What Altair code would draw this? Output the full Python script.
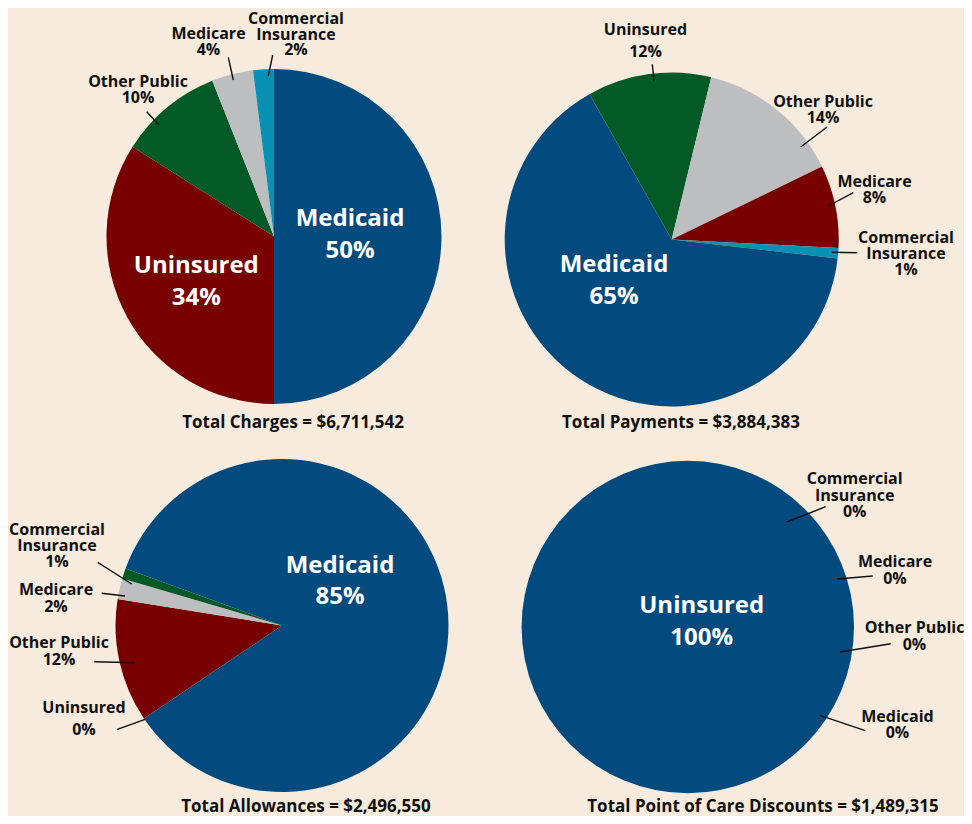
import math
import altair as alt
import pandas as pd

# ---------------- data ----------------
TOTAL_NAMES = ["Total Charges", "Total Payments", "Total Allowances", "Total Point of Care Discounts"]
TOTALS = [6711542, 3884383, 2496550, 1489315]

PIE1_CATS = ["Medicaid", "Uninsured", "Other Public", "Medicare", "Commercial Insurance"]
PIE1_VALS = [50, 34, 10, 4, 2]
PIE2_CATS = ["Uninsured", "Other Public", "Medicare", "Commercial Insurance", "Medicaid"]
PIE2_VALS = [12, 14, 8, 1, 65]
PIE3_CATS = ["Uninsured", "Other Public", "Medicare", "Commercial Insurance", "Medicaid"]
PIE3_VALS = [0, 12, 2, 1, 85]
PIE4_CATS = ["Uninsured", "Commercial Insurance", "Medicare", "Other Public", "Medicaid"]
PIE4_VALS = [100, 0, 0, 0, 0]

# ---------------- style / layout ----------------
W, H = 956, 808
BG = "#F6EBDC"
PALETTE = {"blue": "#034B7F", "red": "#780000", "green": "#045A27", "gray": "#BDBEC0", "teal": "#0891B2"}
PIE_COLORS = [
    ["blue", "red", "green", "gray", "teal"],
    ["green", "gray", "red", "teal", "blue"],
    ["teal", "red", "gray", "green", "blue"],
    ["blue", "teal", "gray", "green", "red"],
]
# centre x, centre y, radius, start angle (deg clockwise from 12 o'clock) -- page coordinates
PIE_GEOM = [(274, 236.5, 167.5, 0), (671.7, 239.5, 167, -29.5), (282, 625.5, 166.5, 236), (687.8, 627, 166.2, 0)]
TITLE_POS = [(293, 428.3), (681, 428.3), (306, 812), (763, 812)]
# label layout: (x centre, first baseline, line gap, big?, leader line)
LABEL_POS = {
    (0, "Medicaid"): (350, 226, 32, True, None),
    (0, "Uninsured"): (196.3, 273.3, 32, True, None),
    (0, "Other Public"): (138, 87.3, 16, False, (146.7, 111.7, 159, 125)),
    (0, "Medicare"): (208.5, 39, 16, False, (228.3, 57.3, 233.3, 80)),
    (0, "Commercial Insurance"): (296, 24, 15.7, False, (272.7, 55, 268.3, 76)),
    (1, "Uninsured"): (645.5, 35, 21.7, False, (652.3, 64.3, 654, 80.7)),
    (1, "Other Public"): (823, 107.3, 16, False, (826.7, 127.3, 800.7, 147)),
    (1, "Medicare"): (874.5, 186.7, 16.6, False, (853.3, 192.7, 828.3, 206)),
    (1, "Commercial Insurance"): (906, 243.3, 16, False, (857.3, 252.7, 831.7, 252.3)),
    (1, "Medicaid"): (614, 272.3, 32, True, None),
    (2, "Medicaid"): (340, 573.3, 31, True, None),
    (2, "Commercial Insurance"): (57, 535, 16.2, False, (97.7, 562.3, 131.7, 584)),
    (2, "Medicare"): (56, 595, 16.7, False, (101.7, 593.3, 125, 596)),
    (2, "Other Public"): (59, 648.3, 16.7, False, (94.3, 661.7, 135, 662.7)),
    (2, "Uninsured"): (84, 713.3, 21.7, False, (117.3, 729.3, 145, 719.3)),
    (3, "Uninsured"): (701.7, 613.3, 31.7, True, None),
    (3, "Commercial Insurance"): (854.7, 484, 16.6, False, (825.7, 506.7, 786.7, 522)),
    (3, "Medicare"): (895, 567.3, 16.7, False, (872.7, 576, 837.3, 579)),
    (3, "Other Public"): (914.5, 633.3, 16.7, False, (890.7, 643.7, 840, 652)),
    (3, "Medicaid"): (897.5, 721.7, 16, False, (865.3, 730.7, 820, 715.3)),
}
LINE_SPLIT = {"Commercial Insurance": ["Commercial", "Insurance"]}
FONT = "Open Sans"
OFF = 8  # page margin

PIES = [(PIE1_CATS, PIE1_VALS), (PIE2_CATS, PIE2_VALS), (PIE3_CATS, PIE3_VALS), (PIE4_CATS, PIE4_VALS)]

# ---------------- tables ----------------
small_rows, big_rows, lead_rows, title_rows = [], [], [], []
for p, (cats, vals) in enumerate(PIES):
    for c, v in zip(cats, vals):
        x, y0, gap, big, lead = LABEL_POS[(p, c)]
        lines = LINE_SPLIT.get(c, [c]) + [f"{v}%"]
        for i, t in enumerate(lines):
            row = {"x": x - OFF, "y": y0 - OFF + i * gap, "t": t}
            (big_rows if big else small_rows).append(row)
        if lead:
            lead_rows.append({"x": lead[0] - OFF, "y": lead[1] - OFF, "x2": lead[2] - OFF, "y2": lead[3] - OFF})
    tx, ty = TITLE_POS[p]
    title_rows.append({"x": tx - OFF, "y": ty - OFF, "t": f"{TOTAL_NAMES[p]} = ${TOTALS[p]:,}"})

xs = alt.Scale(domain=[0, W], range=[0, W], nice=False, zero=False)
ys = alt.Scale(domain=[0, H], range=[0, H], nice=False, zero=False)
color_scale = alt.Scale(domain=list(PALETTE.keys()), range=list(PALETTE.values()))

layers = []
for p, (cats, vals) in enumerate(PIES):
    cx, cy, r, a0 = PIE_GEOM[p]
    df = pd.DataFrame({"cat": cats, "value": vals, "idx": list(range(len(cats))), "slot": PIE_COLORS[p]})
    start = math.radians(a0)
    arc = alt.Chart(df).mark_arc(outerRadius=r, strokeWidth=0).encode(
        theta=alt.Theta("value:Q", stack=True,
                        scale=alt.Scale(domain=[0, 100], range=[start, start + 2 * math.pi])),
        order=alt.Order("idx:Q"),
        color=alt.Color("slot:N", scale=color_scale, legend=None),
        x=alt.value(cx - OFF),
        y=alt.value(cy - OFF),
    )
    layers.append(arc)

leads = alt.Chart(pd.DataFrame(lead_rows)).mark_rule(color="#111111", strokeWidth=1.4).encode(
    x=alt.X("x:Q", scale=xs, axis=None), y=alt.Y("y:Q", scale=ys, axis=None),
    x2="x2:Q", y2="y2:Q")
small = alt.Chart(pd.DataFrame(small_rows)).mark_text(
    font=FONT, fontWeight="bold", fontSize=16, color="#111111", align="center", baseline="alphabetic"
).encode(x=alt.X("x:Q", scale=xs, axis=None), y=alt.Y("y:Q", scale=ys, axis=None), text="t:N")
big = alt.Chart(pd.DataFrame(big_rows)).mark_text(
    font=FONT, fontWeight="bold", fontSize=24, color="#FFFFFF", align="center", baseline="alphabetic"
).encode(x=alt.X("x:Q", scale=xs, axis=None), y=alt.Y("y:Q", scale=ys, axis=None), text="t:N")
titles = alt.Chart(pd.DataFrame(title_rows)).mark_text(
    font=FONT, fontWeight="bold", fontSize=17, color="#111111", align="center", baseline="alphabetic"
).encode(x=alt.X("x:Q", scale=xs, axis=None), y=alt.Y("y:Q", scale=ys, axis=None), text="t:N")

chart = alt.layer(*layers, leads, small, big, titles).resolve_scale(theta="independent").properties(
    width=W, height=H, background=BG, padding=0, autosize="none"
).configure_view(stroke=None)

chart.save("out.html", embed_options={"renderer": "svg", "actions": False})
